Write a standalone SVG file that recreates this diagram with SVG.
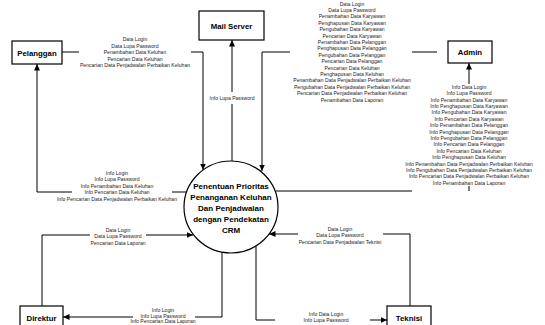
<svg xmlns="http://www.w3.org/2000/svg" width="545" height="325" viewBox="0 0 545 325">
<defs>
<marker id="arr" markerUnits="userSpaceOnUse" markerWidth="7" markerHeight="7" refX="6.5" refY="3" orient="auto">
<path d="M0,0 L6.5,3 L0,6 z" fill="#000"/>
</marker>
<style>
.box{fill:#fff;stroke:#000;stroke-width:1.2}
.nt{font-family:"Liberation Sans",Arial,sans-serif;font-weight:bold;font-size:7.8px;text-anchor:middle;fill:#000}
.ct{font-family:"Liberation Sans",Arial,sans-serif;font-weight:bold;font-size:8px;text-anchor:middle;fill:#000}
.lb{font-family:"Liberation Sans",Arial,sans-serif;font-size:5.1px;text-anchor:middle;fill:#1a1a1a}
.cn{fill:none;stroke:#000;stroke-width:1}
</style>
</defs>
<rect width="545" height="325" fill="#fff"/>

<g id="connectors">
<path class="cn" d="M62,52 H79 M191,52 H203 V170" marker-end="url(#arr)"/>
<path class="cn" d="M188,192 H172 M72,192 H37 V64" marker-end="url(#arr)"/>
<path class="cn" d="M232,162 V104 M232,92 V40" marker-end="url(#arr)"/>
<path class="cn" d="M437,52 H412 M290,52 H262 V171" marker-end="url(#arr)"/>
<path class="cn" d="M276,191 H412 M469,191 V186 M469,84 V63" marker-end="url(#arr)"/>
<path class="cn" d="M42,306 V235 H90 M146,235 H193" marker-end="url(#arr)"/>
<path class="cn" d="M222,252 V317 H195 M133,317 H63" marker-end="url(#arr)"/>
<path class="cn" d="M410,306 V234 H383 M298,234 H269" marker-end="url(#arr)"/>
<path class="cn" d="M256,246 V320 H275 M370,320 H387" marker-end="url(#arr)"/>
</g>

<g id="labels">
<g id="lbl-pelanggan-in">
<text class="lb" x="135" y="41">Data Login</text>
<text class="lb" x="135" y="47.5">Data Lupa Password</text>
<text class="lb" x="135" y="54">Penambahan Data Keluhan</text>
<text class="lb" x="135" y="60.5">Pencarian Data Keluhan</text>
<text class="lb" x="135" y="67">Pencarian Data Penjadwalan Perbaikan Keluhan</text>
</g>
<g id="lbl-pelanggan-out">
<text class="lb" x="117" y="174.7">Info Login</text>
<text class="lb" x="117" y="181.2">Info Lupa Password</text>
<text class="lb" x="117" y="187.7">Info Penambahan Data Keluhan</text>
<text class="lb" x="117" y="194.2">Info Pencarian Data Keluhan</text>
<text class="lb" x="117" y="200.7">Info Pencarian Data Penjadwalan Perbaikan Keluhan</text>
</g>
<g id="lbl-mail">
<text class="lb" x="232" y="99.7">Info Lupa Password</text>
</g>
<g id="lbl-admin-in">
<text class="lb" x="352" y="5.5">Data Login</text>
<text class="lb" x="352" y="11.9">Data Lupa Password</text>
<text class="lb" x="352" y="18.3">Penambahan Data Karyawan</text>
<text class="lb" x="352" y="24.7">Penghapusan Data Karyawan</text>
<text class="lb" x="352" y="31.1">Pengubahan Data Karyawan</text>
<text class="lb" x="352" y="37.5">Pencarian Data Karyawan</text>
<text class="lb" x="352" y="43.9">Penambahan Data Pelanggan</text>
<text class="lb" x="352" y="50.3">Penghapusan Data Pelanggan</text>
<text class="lb" x="352" y="56.7">Pengubahan Data Pelanggan</text>
<text class="lb" x="352" y="63.1">Pencarian Data Pelanggan</text>
<text class="lb" x="352" y="69.5">Pencarian Data Keluhan</text>
<text class="lb" x="352" y="75.9">Penghapusan Data Keluhan</text>
<text class="lb" x="352" y="82.3">Penambahan Data Penjadwalan Perbaikan Keluhan</text>
<text class="lb" x="352" y="88.7">Pengubahan Data Penjadwalan Perbaikan Keluhan</text>
<text class="lb" x="352" y="95.1">Pencarian Data Penjadwalan Perbaikan Keluhan</text>
<text class="lb" x="352" y="101.5">Penambahan Data Laporan</text>
</g>
<g id="lbl-admin-out">
<text class="lb" x="469" y="88.7">Info Data Login</text>
<text class="lb" x="469" y="95.1">Info Lupa Password</text>
<text class="lb" x="469" y="101.5">Info Penambahan Data Karyawan</text>
<text class="lb" x="469" y="107.9">Info Penghapusan Data Karyawan</text>
<text class="lb" x="469" y="114.3">Info Pengubahan Data Karyawan</text>
<text class="lb" x="469" y="120.7">Info Pencarian Data Karyawan</text>
<text class="lb" x="469" y="127.1">Info Penambahan Data Pelanggan</text>
<text class="lb" x="469" y="133.5">Info Penghapusan Data Pelanggan</text>
<text class="lb" x="469" y="139.9">Info Pengubahan Data Pelanggan</text>
<text class="lb" x="469" y="146.3">Info Pencarian Data Pelanggan</text>
<text class="lb" x="469" y="152.7">Info Pencarian Data Keluhan</text>
<text class="lb" x="469" y="159.1">Info Penghapusan Data Keluhan</text>
<text class="lb" x="469" y="165.5">Info Penambahan Data Penjadwalan Perbaikan Keluhan</text>
<text class="lb" x="469" y="171.9">Info Pengubahan Data Penjadwalan Perbaikan Keluhan</text>
<text class="lb" x="469" y="178.3">Info Pencarian Data Penjadwalan Perbaikan Keluhan</text>
<text class="lb" x="469" y="184.7">Info Penambahan Data Laporan</text>
</g>
<g id="lbl-direktur-in">
<text class="lb" x="118" y="231.7">Data Login</text>
<text class="lb" x="118" y="238.2">Data Lupa Password</text>
<text class="lb" x="118" y="244.7">Pencarian Data Laporan</text>
</g>
<g id="lbl-direktur-out">
<text class="lb" x="163" y="311.6">Info Login</text>
<text class="lb" x="163" y="317.6">Info Lupa Password</text>
<text class="lb" x="163" y="323.4">Info Pencarian Data Laporan</text>
</g>
<g id="lbl-teknisi-in">
<text class="lb" x="340" y="230.7">Data Login</text>
<text class="lb" x="340" y="237.2">Data Lupa Password</text>
<text class="lb" x="340" y="243.7">Pencarian Data Penjadwalan Teknisi</text>
</g>
<g id="lbl-teknisi-out">
<text class="lb" x="326" y="315.7">Info Data Login</text>
<text class="lb" x="326" y="322.2">Info Lupa Password</text>
</g>
</g>

<g id="process">
<ellipse cx="231" cy="207" rx="47" ry="46" fill="#fff" stroke="#000" stroke-width="1.2"/>
<text class="ct" x="231" y="189">Penentuan Prioritas</text>
<text class="ct" x="231" y="200">Penanganan Keluhan</text>
<text class="ct" x="231" y="211">Dan Penjadwalan</text>
<text class="ct" x="231" y="222">dengan Pendekatan</text>
<text class="ct" x="231" y="233">CRM</text>
</g>

<g id="pelanggan">
<rect class="box" x="12" y="41" width="50" height="23"/>
<text class="nt" x="37" y="55.5">Pelanggan</text>
</g>
<g id="mailserver">
<rect class="box" x="199" y="11" width="65" height="29"/>
<text class="nt" x="231.5" y="28.5">Mail Server</text>
</g>
<g id="admin">
<rect class="box" x="448" y="41" width="44" height="22"/>
<text class="nt" x="470" y="55">Admin</text>
</g>
<g id="direktur">
<rect class="box" x="20" y="306" width="43" height="26"/>
<text class="nt" x="41.5" y="320.5">Direktur</text>
</g>
<g id="teknisi">
<rect class="box" x="387" y="306" width="44" height="26"/>
<text class="nt" x="409" y="321">Teknisi</text>
</g>
</svg>
